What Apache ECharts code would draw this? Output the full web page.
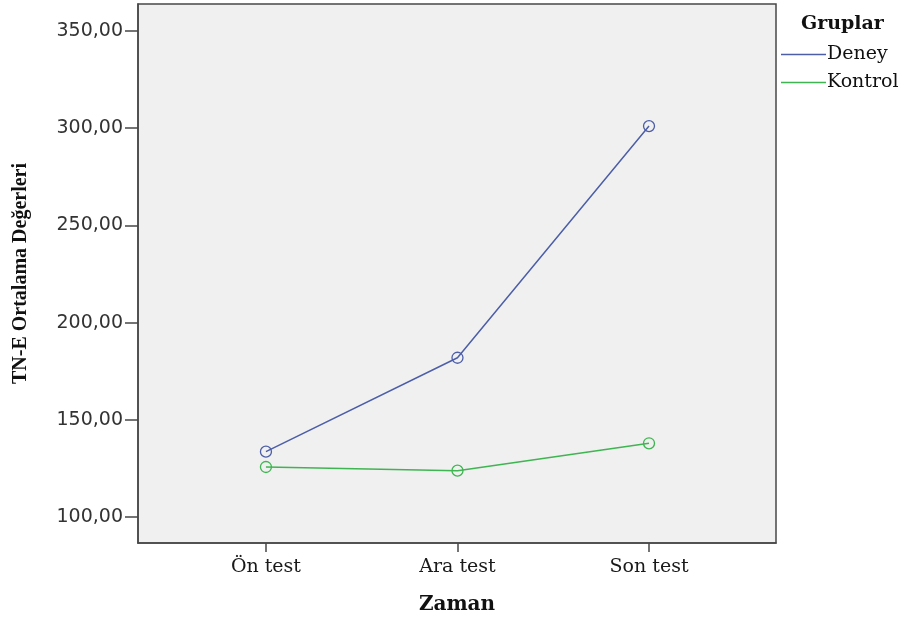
<!DOCTYPE html>
<html>
<head>
<meta charset="utf-8">
<script src="https://cdn.jsdelivr.net/npm/echarts@6/dist/echarts.min.js"></script>
<style>
  html, body { margin: 0; padding: 0; background: #ffffff; }
  #chart { width: 910px; height: 619px; }
</style>
</head>
<body>
<div id="chart"></div>
<script>
// Measurement occasions (x axis) and group means
const categories = ['Ön test', 'Ara test', 'Son test'];
const deneyValues = [133.6, 181.9, 301.1];
const kontrolValues = [125.7, 123.8, 137.9];
const yTicks = [100, 150, 200, 250, 300, 350];

const seriesNames = ['Deney', 'Kontrol'];
const seriesColors = ['#4d5ea8', '#3fb551'];

function toPoints(values) {
  return values.map((v, i) => [i, v]);
}

const chart = echarts.init(document.getElementById('chart'), null, { renderer: 'canvas' });

const serifFont = '"DejaVu Serif", serif';

function lineSeries(idx, values) {
  const c = seriesColors[idx];
  return {
    name: seriesNames[idx],
    type: 'line',
    data: toPoints(values),
    symbol: 'circle',
    symbolSize: 11,
    lineStyle: { width: 1.5, color: c },
    itemStyle: { color: 'rgba(0,0,0,0)', borderColor: c, borderWidth: 1.3 }
  };
}

chart.setOption({
  animation: false,
  backgroundColor: '#ffffff',
  grid: {
    left: 138, right: 134, top: 4, bottom: 76,
    show: true,
    backgroundColor: '#f0f0f0',
    borderColor: '#474747',
    borderWidth: 1.5,
    containLabel: false,
    outerBoundsMode: 'none'
  },
  legend: {
    orient: 'vertical',
    left: 781,
    top: 42,
    padding: 0,
    icon: 'rect',
    itemWidth: 45,
    itemHeight: 1.5,
    itemGap: 3,
    selectedMode: false,
    data: seriesNames.map((n, i) => ({ name: n, itemStyle: { color: seriesColors[i], borderWidth: 0 } })),
    textStyle: { fontFamily: serifFont, fontSize: 19, color: '#111', padding: [3, 0, 0, -4], lineHeight: 22 }
  },
  title: {
    text: 'Gruplar',
    left: 801,
    top: 15,
    padding: 0,
    textStyle: { fontFamily: serifFont, fontSize: 19, fontWeight: 'bold', color: '#111' }
  },
  xAxis: {
    type: 'value',
    min: -0.668,
    max: 2.663,
    name: 'Zaman',
    nameLocation: 'middle',
    nameGap: 52,
    nameTextStyle: { fontFamily: serifFont, fontSize: 20, fontWeight: 'bold', color: '#111' },
    axisLine: { show: true, onZero: false, lineStyle: { color: '#474747', width: 1.5 } },
    axisTick: { show: true, customValues: [0, 1, 2], length: 9, lineStyle: { color: '#474747', width: 1.5 } },
    axisLabel: {
      customValues: [0, 1, 2],
      formatter: (v) => categories[Math.round(v)],
      margin: 15,
      fontFamily: serifFont,
      fontSize: 19,
      color: '#1a1a1a'
    },
    splitLine: { show: false }
  },
  yAxis: {
    type: 'value',
    min: 86.6,
    max: 363.9,
    name: 'TN-E Ortalama Değerleri',
    nameLocation: 'middle',
    nameGap: 107,
    nameTextStyle: { fontFamily: '"Liberation Serif", serif', fontSize: 20, fontWeight: 'bold', color: '#111' },
    axisLine: { show: true, onZero: false, lineStyle: { color: '#474747', width: 1.5 } },
    axisTick: { show: true, customValues: yTicks, length: 13, lineStyle: { color: '#474747', width: 1.5 } },
    axisLabel: {
      customValues: yTicks,
      formatter: (v) => v.toFixed(2).replace('.', ','),
      margin: 15,
      fontFamily: '"DejaVu Sans", sans-serif',
      fontSize: 19,
      color: '#333'
    },
    splitLine: { show: false }
  },
  series: [
    lineSeries(0, deneyValues),
    lineSeries(1, kontrolValues)
  ]
});
</script>
</body>
</html>
